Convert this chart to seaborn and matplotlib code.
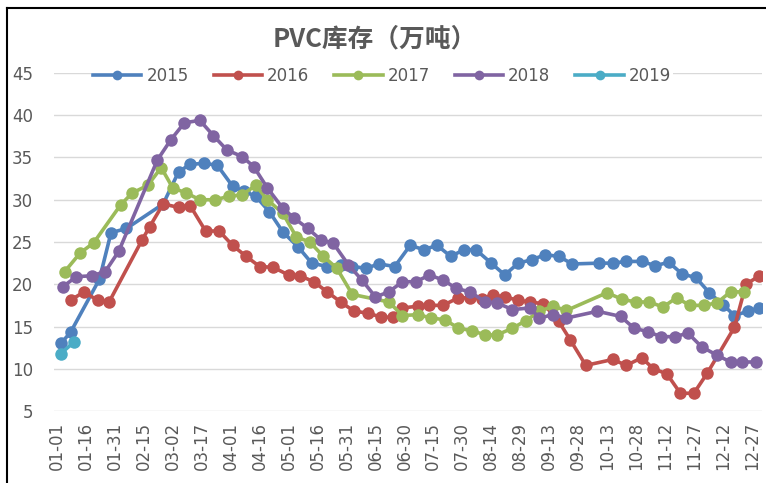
import pandas as pd
import seaborn as sns
from matplotlib import pyplot as plt
from matplotlib.lines import Line2D

# day-of-year positions (non-leap year) and PVC stock (10k t)
doy_2015 = [3, 8, 23, 29, 37, 56, 64, 70, 77, 84, 92, 98, 104, 111, 118, 126,
            133, 141, 148, 154, 161, 168, 176, 184, 191, 198, 205, 212, 218,
            226, 233, 240, 247, 254, 261, 268, 282, 289, 296, 304, 311, 318,
            325, 332, 339, 346, 352, 359, 365]
val_2015 = [13.0, 14.3, 20.6, 26.1, 26.6, 29.5, 33.3, 34.2, 34.3, 34.1, 31.6,
            31.0, 30.4, 28.6, 26.2, 24.4, 22.5, 22.1, 22.3, 22.1, 21.9, 22.4,
            22.1, 24.6, 24.1, 24.6, 23.3, 24.1, 24.1, 22.5, 21.1, 22.5, 22.9,
            23.5, 23.3, 22.4, 22.5, 22.5, 22.7, 22.7, 22.2, 22.6, 21.2, 20.8,
            19.0, 17.6, 16.3, 16.8, 17.2]

doy_2016 = [8, 15, 22, 28, 45, 49, 56, 64, 70, 78, 85, 92, 99, 106, 113, 121,
            127, 134, 141, 148, 155, 162, 169, 175, 180, 188, 194, 201, 209,
            215, 221, 227, 233, 240, 246, 253, 261, 267, 275, 289, 296, 304,
            310, 317, 324, 331, 338, 352, 358, 365]
val_2016 = [18.1, 19.1, 18.1, 17.9, 25.2, 26.8, 29.5, 29.1, 29.3, 26.3, 26.3,
            24.6, 23.3, 22.1, 22.0, 21.1, 21.0, 20.3, 19.1, 17.9, 16.8, 16.6,
            16.1, 16.1, 17.2, 17.4, 17.5, 17.5, 18.4, 18.4, 18.3, 18.7, 18.5,
            18.1, 17.9, 17.7, 15.6, 13.4, 10.4, 11.1, 10.4, 11.3, 10.0, 9.4,
            7.1, 7.1, 9.5, 14.9, 20.0, 21.0]

doy_2017 = [5, 13, 20, 34, 40, 48, 55, 61, 68, 75, 83, 90, 97, 104, 110, 118,
            125, 132, 139, 146, 154, 173, 180, 188, 195, 202, 209, 216, 223,
            229, 237, 244, 251, 258, 265, 286, 294, 301, 308, 315, 322, 329,
            336, 343, 350, 357]
val_2017 = [21.5, 23.7, 24.9, 29.4, 30.8, 31.7, 33.8, 31.4, 30.8, 30.0, 30.0,
            30.4, 30.6, 31.7, 30.0, 28.4, 25.6, 25.0, 23.3, 21.9, 18.8, 17.9,
            16.3, 16.4, 16.0, 15.8, 14.8, 14.5, 14.0, 14.0, 14.8, 15.7, 16.8,
            17.4, 16.9, 19.0, 18.2, 17.9, 17.9, 17.3, 18.4, 17.5, 17.5, 17.8,
            19.1, 19.1]

doy_2018 = [4, 11, 19, 26, 33, 53, 60, 67, 75, 82, 89, 97, 103, 110, 118, 124,
            131, 138, 144, 152, 159, 166, 173, 180, 187, 194, 201, 208, 215,
            223, 229, 237, 246, 251, 258, 265, 281, 293, 300, 307, 314, 321,
            328, 335, 343, 350, 356, 363]
val_2018 = [19.7, 20.9, 21.0, 21.5, 23.9, 34.7, 37.1, 39.1, 39.4, 37.6, 35.9,
            35.1, 33.9, 31.4, 29.0, 27.8, 26.6, 25.2, 24.9, 22.3, 20.5, 18.5,
            19.1, 20.3, 20.3, 21.1, 20.5, 19.5, 19.1, 17.9, 17.8, 17.0, 17.2,
            16.0, 16.4, 16.0, 16.8, 16.2, 14.8, 14.4, 13.8, 13.8, 14.2, 12.6,
            11.6, 10.8, 10.8, 10.8]

doy_2019 = [3, 10]
val_2019 = [11.8, 13.2]

years = ['2015', '2016', '2017', '2018', '2019']
colors = ['#4F81BD', '#C0504D', '#9BBB59', '#8064A2', '#4BACC6']

tick_labels = ['01-01', '01-16', '01-31', '02-15', '03-02', '03-17', '04-01',
               '04-16', '05-01', '05-16', '05-31', '06-15', '06-30', '07-15',
               '07-30', '08-14', '08-29', '09-13', '09-28', '10-13', '10-28',
               '11-12', '11-27', '12-12', '12-27']
yticks = [5, 10, 15, 20, 25, 30, 35, 40, 45]

W, H = 766, 483
fig = plt.figure(figsize=(W / 100, H / 100), dpi=100)
ax = fig.add_axes([54 / W, 1 - 411 / H, (762 - 54) / W, (411 - 73) / H])

series = [(doy_2015, val_2015), (doy_2016, val_2016), (doy_2017, val_2017),
          (doy_2018, val_2018), (doy_2019, val_2019)]
for (xs, ys), yr, c in zip(series, years, colors):
    sns.lineplot(x=xs, y=ys, ax=ax, color=c, linewidth=2.6, marker='o',
                 markersize=9, markeredgewidth=0, sort=False, label=yr)

# tick positions as day of year
tick_pos = pd.to_datetime(['2001-' + t for t in tick_labels]).dayofyear
ax.set_xticks(tick_pos)
ax.set_xticklabels(tick_labels, rotation=90, fontsize=12, color='#595959')
ax.set_yticks(yticks)
ax.set_yticklabels([str(v) for v in yticks], fontsize=12, color='#595959')
ax.tick_params(axis='both', length=0)
ax.tick_params(axis='y', pad=15)
ax.tick_params(axis='x', pad=8)
ax.set_xlim(-0.55, 366.3)
ax.set_ylim(5, 45)
ax.set_xlabel('')
ax.set_ylabel('')
ax.grid(axis='y', color='#D9D9D9', linewidth=1)
ax.set_axisbelow(True)
for s in ax.spines.values():
    s.set_visible(False)

leg = ax.legend(loc='center', bbox_to_anchor=(382 / W, 1 - 76 / H),
                bbox_transform=fig.transFigure, ncol=5, frameon=True,
                facecolor='white', edgecolor='none', framealpha=1, fontsize=12,
                handlelength=2.9, handletextpad=0.3, columnspacing=1.5,
                borderpad=0.1, labelcolor='#595959')
for h in leg.get_lines():
    h.set_markersize(7)

fig.text(375 / W, 1 - 39 / H, 'PVC库存（万吨）', ha='center', va='center',
         fontsize=18.5, fontweight='bold', color='#595959',
         family=['Noto Sans CJK SC', 'DejaVu Sans'])

# chart frame (left and top edges visible in the crop)
fig.add_artist(Line2D([7 / W, 7 / W], [0, 1 - 8 / H], color='black',
                      linewidth=1.5, transform=fig.transFigure))
fig.add_artist(Line2D([7 / W, 1], [1 - 8 / H, 1 - 8 / H], color='black',
                      linewidth=1.5, transform=fig.transFigure))

fig.savefig('out.png', dpi=100)
